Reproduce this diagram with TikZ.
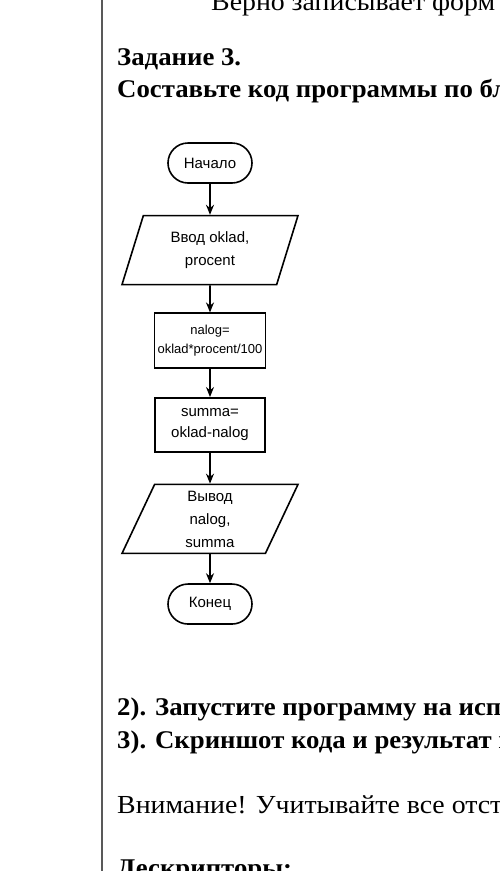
\documentclass[tikz,border=0pt]{standalone}
\usepackage{fontspec}
\setmainfont{Liberation Serif}[UprightFeatures={FakeStretch=1.07}, BoldFeatures={FakeStretch=1.05}]
\newfontfamily\flowfont{Liberation Sans}
\usetikzlibrary{arrows.meta, shapes.geometric, positioning}

\begin{document}
\begin{tikzpicture}[
        x=1pt, y=1pt,
        node distance=29pt,
        term/.style={rectangle, draw, rounded corners=20pt, minimum width=84pt, minimum height=40pt, line width=1.6pt, font=\flowfont\fontsize{15}{18}\selectfont},
        io/.style={trapezium, trapezium left angle=60, trapezium right angle=120, trapezium stretches body, draw, line width=1.6pt, minimum width=176pt, minimum height=69pt, inner sep=0pt, align=center, font=\flowfont\fontsize{15}{23}\selectfont},
        proc/.style={rectangle, draw, line width=1.6pt, minimum width=111pt, minimum height=55pt, inner sep=0pt, align=center},
        arrow/.style={line width=1.6pt, -{Stealth[length=10pt, width=8pt]}},
        heading/.style={anchor=base west, inner sep=0pt, font=\bfseries\fontsize{25.5}{30}\selectfont},
        plain/.style={anchor=base west, inner sep=0pt, font=\fontsize{26}{30}\selectfont}
    ]
        \useasboundingbox (0,0) rectangle (500,-871);
        \clip (0,0) rectangle (500,-871);
        \fill[white] (0,0) rectangle (500,-871);

        % page margin rule
        \draw[gray!70!black, line width=1.5pt] (102,0) -- (102,-871);

        % text of the page
        \node[plain] (toptext) at (211,-10) {Верно записывает форм};
        \node[heading] (task) at (117,-65) {Задание 3.};
        \node[heading] (prompt) at (117,-97) {Составьте код программы по бл};

        % flowchart
        \node (start) [term] at (210,-163) {Начало};
        \node (input) [io, below=31pt of start] {Ввод oklad,\\procent};
        \node (tax) [proc, below=27pt of input, font=\flowfont\fontsize{13}{19}\selectfont] {nalog=\\oklad*procent/100};
        \node (sum) [proc, below=28pt of tax, minimum width=110pt, minimum height=54pt, font=\flowfont\fontsize{15}{21}\selectfont] {summa=\\oklad-nalog};
        \node (output) [io, below=31pt of sum] {Вывод\\nalog,\\summa};
        \node (stop) [term, below=29pt of output] {Конец};

        \draw [arrow] (start) -- (input);
        \draw [arrow] (input) -- (tax);
        \draw [arrow] (tax) -- (sum);
        \draw [arrow] (sum) -- (output);
        \draw [arrow] (output) -- (stop);

        \node[heading] (step2) at (117,-715) {2). Запустите программу на исп};
        \node[heading] (step3) at (117,-748) {3). Скриншот кода и результат п};
        \node[plain] (note) at (117,-813) {Внимание! Учитывайте все отст};
        \node[heading] (descr) at (117,-876) {Дескрипторы:};
    \end{tikzpicture}
\end{document}
